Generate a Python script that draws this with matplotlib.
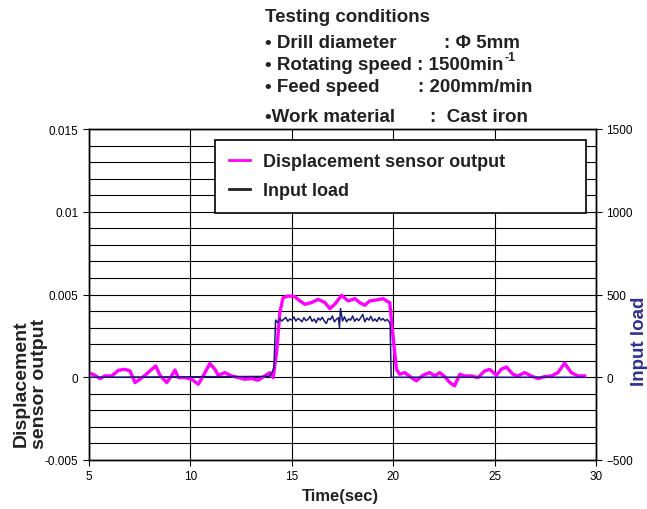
import numpy as np
import matplotlib
matplotlib.use('Agg')
import matplotlib.pyplot as plt
from matplotlib.lines import Line2D

plt.rcParams['font.family'] = ['Liberation Sans', 'DejaVu Sans']

# displacement sensor output (left axis)
disp_t = [5.05, 5.30, 5.54, 5.79, 6.12, 6.45, 6.77, 7.02, 7.27, 7.51, 7.76, 8.00,
          8.29, 8.50, 8.83, 9.07, 9.24, 9.40, 9.73, 10.06, 10.39, 10.63, 10.96,
          11.21, 11.37, 11.70, 12.03, 12.36, 12.69, 13.01, 13.34, 13.67, 13.92,
          14.08, 14.25, 14.41, 14.57, 14.82, 15.15, 15.40, 15.64, 15.97, 16.30,
          16.63, 16.88, 17.12, 17.37, 17.45, 17.78, 18.11, 18.35, 18.60, 18.84,
          19.17, 19.50, 19.67, 19.83, 19.99, 20.16, 20.32, 20.57, 20.90, 21.14,
          21.47, 21.80, 22.05, 22.29, 22.54, 22.79, 23.03, 23.28, 23.53, 23.85,
          24.18, 24.51, 24.76, 25.09, 25.33, 25.58, 25.90, 26.15, 26.48, 26.81,
          27.14, 27.47, 27.80, 28.12, 28.45, 28.78, 29.11, 29.44]
disp_v = [0.00024, 0.00012, -0.00008, 0.00008, 0.00008, 0.00042, 0.00048, 0.00038,
          -0.00032, -0.00012, 0.00012, 0.00038, 0.00068, 0.00012, -0.00032, 0.00008,
          0.00044, -0.00002, -0.00002, -0.00012, -0.00042, 0.00008, 0.00083, 0.00048,
          0.00012, 0.00028, 0.00008, -0.00002, -0.00012, -0.00008, -0.00018, 0.00008,
          0.00028, -0.00002, 0.00149, 0.00391, 0.00481, 0.00491, 0.00487, 0.00461,
          0.00441, 0.00451, 0.00471, 0.00451, 0.00415, 0.00441, 0.00481, 0.00495,
          0.00461, 0.00475, 0.00451, 0.00435, 0.00461, 0.00467, 0.00475, 0.00461,
          0.00451, 0.00250, 0.00048, 0.00018, 0.00028, -0.00002, -0.00022, 0.00012,
          0.00028, 0.00008, 0.00028, 0.00004, -0.00032, -0.00052, 0.00018, 0.00008,
          0.00008, -0.00002, 0.00038, 0.00048, 0.00012, 0.00048, 0.00062, 0.00018,
          0.00008, 0.00028, 0.00008, -0.00008, 0.00004, 0.00008, 0.00028, 0.00085,
          0.00028, 0.00008, 0.00008]

# input load (right axis)
load_t = [5.0, 13.90, 14.05, 14.12, 14.2, 14.3, 14.4, 14.5, 14.6, 14.7, 14.8, 14.9,
          15.0, 15.1, 15.2, 15.3, 15.4, 15.5, 15.6, 15.7, 15.8, 15.9, 16.0, 16.1,
          16.2, 16.3, 16.4, 16.5, 16.6, 16.7, 16.8, 16.9, 17.0, 17.1, 17.2, 17.3,
          17.35, 17.4, 17.5, 17.6, 17.7, 17.8, 17.9, 18.0, 18.1, 18.2, 18.3, 18.4,
          18.5, 18.6, 18.7, 18.8, 18.9, 19.0, 19.1, 19.2, 19.3, 19.4, 19.5, 19.6,
          19.7, 19.8, 19.85, 19.9, 29.4]
load_v = [0, 5, 35, 60, 345, 330, 355, 340, 350, 362, 338, 352, 345, 365, 340, 355,
          348, 335, 360, 342, 350, 368, 338, 352, 330, 358, 345, 362, 340, 325, 355,
          348, 370, 335, 350, 360, 300, 415, 340, 365, 335, 352, 345, 370, 338, 355,
          342, 360, 380, 335, 358, 345, 368, 340, 352, 337, 362, 345, 355, 340, 350,
          335, 320, 0, 0]

fig = plt.figure(figsize=(6.47, 5.10), dpi=100)
W, H = 647, 510
ax = fig.add_axes([89 / W, 1 - 461 / H, (596 - 89) / W, (461 - 130) / H])
ax2 = ax.twinx()

ax.plot(disp_t, disp_v, color='#ff00ff', lw=2.4, zorder=3)
ax2.plot(load_t, load_v, color='#1a1a7a', lw=1.1, zorder=2)

ax.set_xlim(5, 30)
ax.set_ylim(-0.005, 0.015)
ax2.set_ylim(-500, 1500)
ax.set_xticks([5, 10, 15, 20, 25, 30])
ax.set_yticks([-0.005, 0, 0.005, 0.01, 0.015])
ax.set_yticklabels(['-0.005', '0', '0.005', '0.01', '0.015'])
ax.set_yticks(np.arange(-0.005, 0.0151, 0.001), minor=True)
ax2.set_yticks([-500, 0, 500, 1000, 1500])
ax.grid(True, which='both', axis='y', color='black', lw=0.8)
ax.grid(True, which='major', axis='x', color='black', lw=0.8)
ax.tick_params(axis='both', which='major', labelsize=8.5, length=4, width=0.8)
ax.tick_params(axis='y', which='minor', length=0)
ax2.tick_params(axis='y', labelsize=8.5, length=4, width=0.8)
for a in (ax, ax2):
    for s in a.spines.values():
        s.set_linewidth(1.0)

handles = [Line2D([], [], color='#ff00ff', lw=2),
           Line2D([], [], color='#222222', lw=2)]
leg = ax2.legend(handles, ['Displacement sensor output', 'Input load'],
                 loc='upper left', mode='expand',
                 bbox_to_anchor=(0.2485, 0.752, 0.732, 0.215), borderaxespad=0,
                 prop={'weight': 'bold', 'size': 13}, frameon=True, fancybox=False,
                 framealpha=1, edgecolor='black', handlelength=1.2,
                 handletextpad=0.7, borderpad=0.75, labelspacing=0.65)
leg.get_frame().set_linewidth(1.2)
for txt in leg.get_texts():
    txt.set_color('#222222')

# labels
fig.text(30 / W, 1 - 384 / H, 'Displacement\nsensor output', rotation=90,
         ha='center', va='center', fontsize=14, fontweight='bold',
         multialignment='center', linespacing=1.1, color='#222222')
fig.text(640 / W, 1 - 341 / H, 'Input load', rotation=90, ha='center',
         va='center', fontsize=13.5, fontweight='bold', color='#2e3192')
fig.text(340 / W, 1 - 497 / H, 'Time(sec)', ha='center', va='center',
         fontsize=12, fontweight='bold', color='#222222')

# testing conditions block
cond = dict(fontsize=13.5, fontweight='bold', va='center', color='#222222')
fig.text(265 / W, 1 - 18 / H, 'Testing conditions', **cond)
fig.text(265 / W, 1 - 43 / H, '• Drill diameter', **cond)
fig.text(444 / W, 1 - 43 / H, ': Φ 5mm', **cond)
rot = fig.text(265 / W, 1 - 65 / H, '• Rotating speed : 1500min', **cond)
fig.text(265 / W, 1 - 88 / H, '• Feed speed', **cond)
fig.text(418 / W, 1 - 88 / H, ': 200mm/min', **cond)
fig.text(265 / W, 1 - 118 / H, '•Work material', **cond)
fig.text(430 / W, 1 - 118 / H, ':  Cast iron', **cond)

fig.canvas.draw()
bb = rot.get_window_extent()
fig.text((bb.x1 + 1) / W, 1 - 58 / H, '-1', fontsize=9, fontweight='bold',
         va='center', color='#222222')

fig.savefig('out.png', dpi=100)
